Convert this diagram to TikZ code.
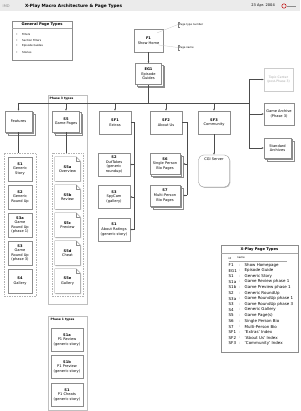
\documentclass[tikz,border=0pt]{standalone}
\usepackage{fontspec}
\setmainfont{DejaVu Sans}
\usetikzlibrary{arrows.meta,shadows}

\tikzset{
  txt/.style={font=\fontsize{3.6}{4.6}\selectfont, align=center, inner sep=0pt},
  headtxt/.style={font=\fontsize{3.7}{4.5}\selectfont\bfseries, inner sep=0pt},
  smalltxt/.style={font=\fontsize{2.7}{3.2}\selectfont, inner sep=0pt},
  calltxt/.style={font=\fontsize{2.6}{3}\selectfont, inner sep=1pt},
  lgtxt/.style={font=\fontsize{4}{4.6}\selectfont, inner sep=0pt},
  phaselbl/.style={font=\fontsize{3}{3.5}\selectfont\bfseries, inner sep=0pt},
  hdr/.style={font=\fontsize{3.6}{4}\selectfont, inner sep=0pt},
  softshadow/.style={drop shadow={shadow xshift=0.8pt, shadow yshift=-0.8pt, fill=black!25, opacity=1}},
  panel/.style={draw=black!45, line width=0.3pt, fill=white, softshadow},
  pagebox/.style={txt, panel, minimum width=32pt, minimum height=23pt},
  stackbox/.style={txt, draw=black!45, line width=0.3pt, fill=white,
    minimum width=27pt, minimum height=21pt,
    copy shadow={shadow xshift=3pt, shadow yshift=-3pt, draw=black!45, fill=white},
    copy shadow={shadow xshift=1.5pt, shadow yshift=-1.5pt, draw=black!45, fill=white}},
  grpbox/.style={draw=black!30, line width=0.3pt, dash pattern=on 1.5pt off 1pt},
  phasebox/.style={draw=black!25, line width=0.4pt, fill=white, softshadow},
  docbox/.style={txt, minimum width=25pt, minimum height=24pt},
  docline/.style={draw=black!45, line width=0.3pt, fill=white, softshadow},
  conn/.style={draw=black!70, line width=0.35pt},
  arrowed/.style={-{Latex[length=2pt,width=1.7pt]}},
  leader/.style={draw=black!25, line width=0.25pt},
}

\begin{document}
\begin{tikzpicture}[x=1pt,y=-1pt]
\useasboundingbox (0,0) rectangle (300,411);

% header bar
\fill[black!8] (0,0) rectangle (300,11.5);
\node[hdr, text=black!45, anchor=west] (imd) at (2.5,6) {IMD};
\node[hdr, font=\fontsize{4.3}{5}\selectfont\bfseries, anchor=west] (title) at (25,6)
    {X-Play Macro Architecture \& Page Types};
\node[hdr, anchor=east] (date) at (275,6) {23 Apr. 2004};
\draw[red!75!black, line width=0.5pt] (284,6) circle (2.2pt);
\draw[black!45, line width=0.8pt] (287,6) -- (296,6);

% general page types
\node[panel, minimum width=60pt, minimum height=39pt] (general) at (42,40.5) {};
\node[headtxt] (generalt) at (42,24.5) {General Page Types};
\draw[black!35, line width=0.3pt] (12,28) -- (72,28);
\foreach \k/\item in {0/Filters, 1/Section Filters, 2/Episode Guides, 3/Stories}
    \node[smalltxt, anchor=west] (gen\k) at (16,34+6*\k) {\makebox[6pt][l]{\textbullet}\item};

% show home + episode guides
\node[pagebox, minimum width=29pt] (f1) at (148.5,40.5) {\textbf{F1}\\Show Home};
\node[stackbox, minimum width=26pt] (eg1) at (148.5,74) {\textbf{EG1}\\Episode\\Guides};
\draw[conn, arrowed] (f1.south) -- (eg1.north);

% callouts
\node[calltxt, anchor=west] (ptnum) at (178,24.5) {Page type number};
\node[calltxt, anchor=west] (pname) at (178,47.5) {Page name};
\foreach \n in {ptnum, pname}
    \draw[black!50, line width=0.3pt] ([xshift=1.5pt]\n.north west) -- (\n.north west)
        -- (\n.south west) -- ([xshift=1.5pt]\n.south west);
\draw[leader] ([xshift=-6pt,yshift=-4pt]f1.north east) -- (ptnum.west);
\draw[leader] ([xshift=-4.5pt,yshift=-4.5pt]f1.east) -- (pname.west);

% phase containers
\node[phasebox, minimum width=39pt, minimum height=209pt] (phase3) at (67.5,199.5) {};
\node[phaselbl, anchor=west] (phase3lbl) at (49.5,98.5) {Phase 3 types};
\node[phasebox, minimum width=39pt, minimum height=94pt] (phase1) at (67.5,363) {};
\node[phaselbl, anchor=west] (phase1lbl) at (50.5,320) {Phase 1 types};

% section row
\node[stackbox] (feat) at (18.5,121.5) {Features};
\node[stackbox] (s5) at (66,121.5) {\textbf{S5}\\Game Pages};
\foreach \n/\x/\lbl/\txt in {sf1/115/SF1/Extras, sf2/166/SF2/About Us, sf3/214/SF3/Community}
    \node[pagebox] (\n) at (\x,122.5) {\textbf{\lbl}\\\txt};

% bus
\coordinate (busL) at (18.5,103);
\coordinate (busR) at (249,103);
\draw[conn] (eg1.south) -- (eg1.south |- busL);
\draw[conn] (busL) -- (busR);
\foreach \n in {feat, s5, sf1, sf2, sf3}
    \draw[conn, arrowed] (\n.north |- busL) -- (\n.north);

% archives
\node[txt, draw=black!20, fill=white, text=black!35, font=\fontsize{3.1}{4}\selectfont,
    minimum width=29pt, minimum height=23pt] (topic) at (278.5,79.5) {Topic Center\\(post-Phase 3)};
\node[pagebox, minimum width=30pt, minimum height=22pt] (gamearch) at (279,114) {Game Archive\\(Phase 3)};
\node[stackbox, minimum height=20pt] (stdarch) at (277.5,148) {Standard\\Archives};
\draw[conn] (busR |- topic.west) -- (busR |- stdarch.west);
\foreach \n in {topic, gamearch, stdarch}
    \draw[conn, arrowed] (busR |- \n.west) -- (\n.west);

% features stories
\node[grpbox, minimum width=32pt, minimum height=143pt] (featgrp) at (20,224.5) {};
\draw[conn] (feat.south) -- (feat.south |- featgrp.north);
\foreach \n/\y/\txt in {s1/169/{\textbf{S1}\\Generic\\Story},
                        s2/197/{\textbf{S2}\\Generic\\Round Up},
                        s3a/225/{\textbf{S3a}\\Game\\Round Up\\(phase 1)},
                        s3/253/{\textbf{S3}\\Game\\Round Up\\(phase 3)},
                        s4/281/{\textbf{S4}\\Gallery}}
    \node[pagebox, minimum width=24pt, minimum height=24pt] (\n) at (20,\y) {\txt};

% game pages (folded corner)
\node[grpbox, minimum width=31pt, minimum height=143pt] (s5grp) at (67.5,224.5) {};
\draw[conn] (s5.south) -- (s5.south |- s5grp.north);
\foreach \n/\y/\lbl/\txt in {s5a/169/S5a/Overview, s5b/197/S5b/Review, s5c/225/S5c/Preview,
                             s5d/253/S5d/Cheat, s5e/281/S5e/Gallery} {
    \node[docbox] (\n) at (67.5,\y) {};
    \draw[docline] (\n.south west) -- (\n.north west) -- ([xshift=-4pt]\n.north east)
        -- ([yshift=-4pt]\n.north east) -- (\n.south east) -- cycle;
    \draw[black!45, line width=0.3pt] ([xshift=-4pt]\n.north east)
        |- ([yshift=-4pt]\n.north east);
    \node[txt] (\n-text) at (\n) {\textbf{\lbl}\\\txt};
}

% extras
\foreach \n/\y/\txt in {outtakes/164.5/{\textbf{S2}\\OutTakes\\(generic\\roundup)},
                        spycam/197/{\textbf{S3}\\SpyCam\\(gallery)},
                        abrat/229.5/{\textbf{S1}\\About Ratings\\(generic story)}}
    \node[pagebox] (\n) at (114,\y) {\txt};
\draw[conn] (sf1.east) -- ++(3,0) coordinate (sf1r) -- (sf1r |- abrat.east);
\foreach \n in {outtakes, spycam, abrat}
    \draw[conn, arrowed] (sf1r |- \n.east) -- (\n.east);

% about us
\node[stackbox, minimum width=30pt] (s6) at (165,164) {\textbf{S6}\\Single Person\\Bio Pages};
\node[stackbox, minimum width=30pt] (s7) at (165,195.5) {\textbf{S7}\\Multi-Person\\Bio Pages};
\draw[conn] (sf2.east) -- ++(5,0) coordinate (sf2r) -- (sf2r |- s7.east);
\foreach \n in {s6, s7}
    \draw[conn, arrowed] (sf2r |- \n.east) -- ([xshift=3pt]\n.east);

% community
\node[panel, rounded corners=5pt, minimum width=31pt, minimum height=32pt] (cgi) at (214,171) {};
\node[txt, anchor=north] (cgitext) at ([yshift=-2.5pt]cgi.north) {CGI Server};
\draw[conn, arrowed] (sf3.south) -- (cgi.north);

% phase 1 pages
\foreach \n/\y/\lbl/\txt in {s1a/340/S1a/P1 Review, s1b/367/S1b/P1 Preview, s1c/395/S1/P1 Cheats}
    \node[pagebox] (\n) at (67,\y) {\textbf{\lbl}\\\txt\\(generic story)};

% legend
\node[panel, minimum width=77pt, minimum height=107pt] (legend) at (259.5,298.5) {};
\node[headtxt] (legendt) at (259.5,249) {X-Play Page Types};
\draw[black!35, line width=0.3pt] (221,253) -- (298,253);
\node[smalltxt, anchor=west] (lgid) at (228.5,258) {id};
\node[smalltxt, anchor=west] (lgname) at (237,258) {name};
\draw[black!35, line width=0.25pt] (228.5,261) -- (287,261);
\foreach \id/\nm [count=\k from 0] in {F1/Show Homepage, EG1/Episode Guide, S1/Generic Story,
        S1a/Game Review phase 1, S1b/Game Preview phase 1, S2/Generic RoundUp,
        S3a/Game RoundUp phase 1, S3/Game RoundUp phase 3, S4/Generic Gallery,
        S5/Game Page(s), S6/Single Person Bio, S7/Multi-Person Bio,
        SF1/`Extras' Index, SF2/`About Us' Index, SF3/`Community' Index} {
    \node[lgtxt, anchor=west] (lgid\k) at (228.5,265+5.6*\k) {\id};
    \node[lgtxt, anchor=west, text=black!45] (lgsep\k) at (239,265+5.6*\k) {:};
    \node[lgtxt, anchor=west] (lgnm\k) at (244.5,265+5.6*\k) {\nm};
}

\end{tikzpicture}
\end{document}
